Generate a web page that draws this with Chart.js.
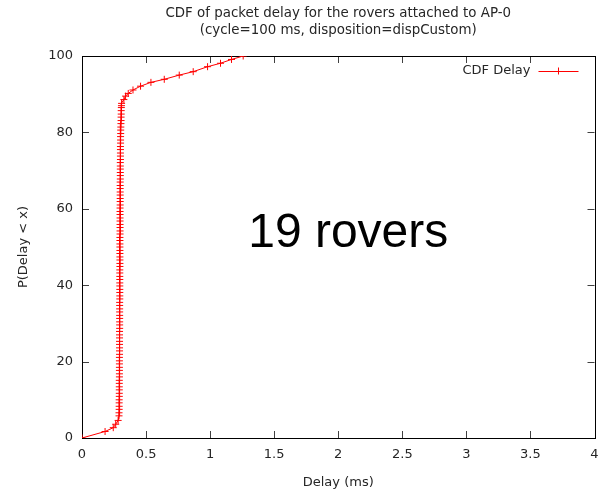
<!DOCTYPE html>
<html>
<head>
<meta charset="utf-8">
<script src="https://cdn.jsdelivr.net/npm/chart.js@4/dist/chart.umd.min.js"></script>
<style>
  html, body { margin: 0; padding: 0; background: #ffffff; }
  canvas { display: block; }
</style>
</head>
<body>
<canvas id="cdf" width="599" height="493"></canvas>
<script>
// Packet delay samples (ms) and the cumulative share of packets below each delay (%)
const delaysMs = [
  0.000, 0.180, 0.244, 0.263, 0.282,
  0.289, 0.289, 0.290, 0.290, 0.290, 0.290, 0.291, 0.291, 0.291, 0.291,
  0.291, 0.291, 0.292, 0.292, 0.292, 0.292, 0.292, 0.292, 0.292, 0.293,
  0.293, 0.293, 0.293, 0.293, 0.293, 0.293, 0.293, 0.294, 0.294, 0.294,
  0.294, 0.294, 0.294, 0.294, 0.294, 0.294, 0.295, 0.295, 0.295, 0.295,
  0.295, 0.295, 0.295, 0.295, 0.295, 0.295, 0.296, 0.296, 0.296, 0.296,
  0.296, 0.296, 0.296, 0.296, 0.296, 0.296, 0.297, 0.297, 0.297, 0.297,
  0.297, 0.297, 0.297, 0.297, 0.297, 0.298, 0.298, 0.298, 0.298, 0.298,
  0.298, 0.298, 0.298, 0.299, 0.299, 0.299, 0.299, 0.299, 0.299, 0.300,
  0.300, 0.300, 0.300, 0.300, 0.301, 0.301, 0.301, 0.302, 0.302, 0.303,
  0.304, 0.305, 0.305, 0.306, 0.306, 0.307, 0.308,
  0.309, 0.327, 0.340, 0.361, 0.398, 0.457, 0.538, 0.642, 0.759, 0.868,
  0.980, 1.081, 1.167, 1.258
];
const cdfPercent = [
  0.0, 1.7, 2.7, 3.6, 4.6,
  5.8, 6.6, 7.5, 8.3, 9.2, 10.0, 10.9, 11.7, 12.6, 13.4,
  14.3, 15.1, 16.0, 16.8, 17.7, 18.5, 19.4, 20.2, 21.1, 21.9,
  22.8, 23.6, 24.5, 25.3, 26.2, 27.0, 27.9, 28.7, 29.6, 30.4,
  31.3, 32.1, 33.0, 33.8, 34.7, 35.5, 36.4, 37.2, 38.1, 38.9,
  39.8, 40.6, 41.5, 42.3, 43.2, 44.0, 44.9, 45.7, 46.6, 47.4,
  48.3, 49.1, 50.0, 50.8, 51.7, 52.5, 53.4, 54.2, 55.1, 55.9,
  56.8, 57.6, 58.5, 59.3, 60.2, 61.0, 61.9, 62.7, 63.6, 64.4,
  65.3, 66.1, 67.0, 67.8, 68.7, 69.5, 70.4, 71.2, 72.1, 72.9,
  73.8, 74.6, 75.5, 76.3, 77.2, 78.0, 78.9, 79.7, 80.6, 81.4,
  82.3, 83.1, 84.0, 84.8, 85.7, 86.5, 87.0,
  87.6, 88.6, 89.5, 90.2, 91.1, 92.1, 93.1, 93.9, 95.0, 95.9,
  97.2, 98.1, 99.1, 100.0
];

const xTickValues = [0, 0.5, 1, 1.5, 2, 2.5, 3, 3.5, 4];
const yTickValues = [0, 20, 40, 60, 80, 100];

const titleLines = [
  'CDF of packet delay for the rovers attached to AP-0',
  '(cycle=100 ms, disposition=dispCustom)'
];
const seriesName = 'CDF Delay';
const roverNote = '19 rovers';
const xAxisName = 'Delay (ms)';
const yAxisName = 'P(Delay < x)';

const points = delaysMs.map((d, i) => ({ x: d, y: cdfPercent[i] }));

const FONT = '"DejaVu Sans", sans-serif';
const INK = '#262626';
const RED = '#ff0000';

// gnuplot-style frame: full box with inward ticks on all four sides
const framePlugin = {
  id: 'frame',
  beforeDatasetsDraw(chart) {
    const { ctx, chartArea: a, scales } = chart;
    ctx.save();
    ctx.lineWidth = 1;
    ctx.strokeStyle = '#404040';
    const len = 7;
    ctx.beginPath();
    xTickValues.forEach(v => {
      const px = Math.round(scales.x.getPixelForValue(v)) + 0.5;
      if (px <= a.left + 1 || px >= a.right - 1) return;
      ctx.moveTo(px, a.bottom); ctx.lineTo(px, a.bottom - len);
      ctx.moveTo(px, a.top); ctx.lineTo(px, a.top + len);
    });
    yTickValues.forEach(v => {
      const py = Math.round(scales.y.getPixelForValue(v)) + 0.5;
      if (py <= a.top + 1 || py >= a.bottom - 1) return;
      ctx.moveTo(a.left, py); ctx.lineTo(a.left + len, py);
      ctx.moveTo(a.right, py); ctx.lineTo(a.right - len, py);
    });
    ctx.stroke();
    ctx.strokeStyle = '#000000';
    ctx.strokeRect(Math.round(a.left) + 0.5, Math.round(a.top) + 0.5,
                   Math.round(a.right - a.left), Math.round(a.bottom - a.top));
    ctx.restore();
  },
  afterDatasetsDraw(chart) {
    const { ctx, chartArea: a } = chart;
    ctx.save();
    // two-line title centred over the plot
    ctx.fillStyle = INK;
    ctx.font = '13.4px ' + FONT;
    ctx.textAlign = 'center';
    ctx.textBaseline = 'middle';
    const cx = (a.left + a.right) / 2;
    ctx.fillText(titleLines[0], cx, 13.5);
    ctx.fillText(titleLines[1], cx, 31);

    // key in the top-right corner: label, then line sample with a cross
    const ky = a.top + 15;
    ctx.font = '13px ' + FONT;
    ctx.textAlign = 'right';
    ctx.fillText(seriesName, a.right - 64, ky);
    ctx.strokeStyle = RED;
    ctx.lineWidth = 1;
    ctx.beginPath();
    ctx.moveTo(a.right - 56, ky + 0.5); ctx.lineTo(a.right - 16, ky + 0.5);
    ctx.moveTo(a.right - 36, ky - 3.5); ctx.lineTo(a.right - 36, ky + 3.5);
    ctx.stroke();

    // large annotation inside the plot
    ctx.fillStyle = '#000000';
    ctx.font = '48px "Liberation Sans", Arial, sans-serif';
    ctx.textAlign = 'center';
    ctx.textBaseline = 'alphabetic';
    ctx.fillText(roverNote, a.left + (a.right - a.left) * 0.5195, a.top + 191);
    ctx.restore();
  }
};

new Chart(document.getElementById('cdf'), {
  type: 'scatter',
  data: {
    datasets: [{
      label: seriesName,
      data: points,
      showLine: true,
      borderColor: RED,
      borderWidth: 1,
      pointStyle: 'cross',
      pointRadius: 3.5,
      pointBorderColor: RED,
      pointBorderWidth: 1,
      pointHoverRadius: 3.5,
      tension: 0
    }]
  },
  options: {
    responsive: false,
    animation: false,
    devicePixelRatio: 1,
    layout: { padding: { top: 56, right: 0, left: 0, bottom: 0 } },
    plugins: {
      legend: { display: false },
      title: { display: false },
      tooltip: { enabled: false }
    },
    scales: {
      x: {
        type: 'linear',
        min: 0,
        max: 4,
        afterFit(scale) {
          scale.height = 55;
          scale.paddingLeft = 0;
          scale.paddingRight = 4;
        },
        afterBuildTicks(scale) { scale.ticks = xTickValues.map(v => ({ value: v })); },
        grid: { display: false, drawTicks: false },
        border: { display: false },
        ticks: {
          color: INK,
          font: { family: FONT, size: 13 },
          padding: 9,
          maxRotation: 0,
          autoSkip: false,
          callback: v => String(v)
        },
        title: {
          display: true,
          text: xAxisName,
          color: INK,
          font: { family: FONT, size: 13 },
          padding: { top: 0, bottom: 3 }
        }
      },
      y: {
        type: 'linear',
        min: 0,
        max: 100,
        afterFit(scale) {
          scale.width = 82;
          scale.paddingTop = 0;
          scale.paddingBottom = 0;
        },
        afterBuildTicks(scale) { scale.ticks = yTickValues.map(v => ({ value: v })); },
        grid: { display: false, drawTicks: false },
        border: { display: false },
        ticks: {
          color: INK,
          font: { family: FONT, size: 13 },
          padding: 9,
          autoSkip: false,
          callback: v => String(v)
        },
        title: {
          display: true,
          text: yAxisName,
          color: INK,
          font: { family: FONT, size: 13 },
          padding: { top: 16, bottom: 0 }
        }
      }
    }
  },
  plugins: [framePlugin]
});
</script>
</body>
</html>
